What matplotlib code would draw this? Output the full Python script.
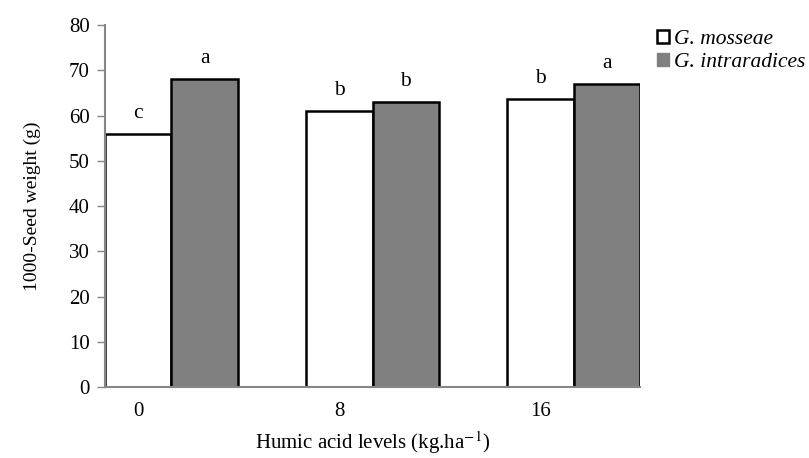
import numpy as np
import matplotlib
matplotlib.use("Agg")
import matplotlib.pyplot as plt
from matplotlib.patches import Patch

# 데이터
levels = ['0', '8', '16']
mosseae = [56, 61, 63.7]
intraradices = [68, 63, 67]
letters_mosseae = ['c', 'b', 'b']
letters_intra = ['a', 'b', 'a']
yticks = [0, 10, 20, 30, 40, 50, 60, 70, 80]

plt.rcParams['font.family'] = ['Liberation Serif', 'DejaVu Serif']
plt.rcParams['mathtext.fontset'] = 'stix'

fig = plt.figure(figsize=(8.09, 4.58), dpi=100)
ax = fig.add_axes([105 / 809, 1 - 387 / 458, 535 / 809, 362 / 458])

x = np.arange(len(levels))
w = 0.33
ax.bar(x, mosseae, width=w, color='white', edgecolor='black', linewidth=1.8, zorder=1)
ax.bar(x + w, intraradices, width=w, color='#808080', edgecolor='black', linewidth=1.8, zorder=1)

for xi, v, t in zip(x, mosseae, letters_mosseae):
    ax.text(xi, v + 2.4, t, ha='center', va='bottom', fontsize=15.5)
for xi, v, t in zip(x + w, intraradices, letters_intra):
    ax.text(xi, v + 2.4, t, ha='center', va='bottom', fontsize=15.5)

ax.set_xlim(-w / 2, 2 + 1.5 * w)
ax.set_ylim(0, 80)
ax.set_yticks(yticks)
ax.set_xticks(x)
ax.set_xticklabels(levels)
ax.tick_params(axis='y', labelsize=15, length=6, width=1, color='#868686', pad=5)
ax.tick_params(axis='x', labelsize=15, length=0, pad=11)

for s in ['top', 'right']:
    ax.spines[s].set_visible(False)
for s in ['left', 'bottom']:
    ax.spines[s].set_color('#868686')
    ax.spines[s].set_linewidth(1.5)
    ax.spines[s].set_zorder(3)

ax.set_ylabel('1000-Seed weight (g)', fontsize=14, labelpad=20)
ax.set_xlabel('Humic acid levels (kg.ha$^{-1}$)', fontsize=15, labelpad=6)

handles = [Patch(facecolor='white', edgecolor='black', linewidth=1.8),
           Patch(facecolor='#808080', edgecolor='#808080')]
fig.legend(handles, ['G. mosseae', 'G. intraradices'], loc='upper left',
           bbox_to_anchor=(640 / 809, 1 - 13 / 458), frameon=False,
           prop={'style': 'italic', 'size': 15.5}, handlelength=0.55,
           handleheight=0.55, handletextpad=0.25, labelspacing=0.17,
           borderpad=0.3)

fig.savefig('out.png', dpi=100)
